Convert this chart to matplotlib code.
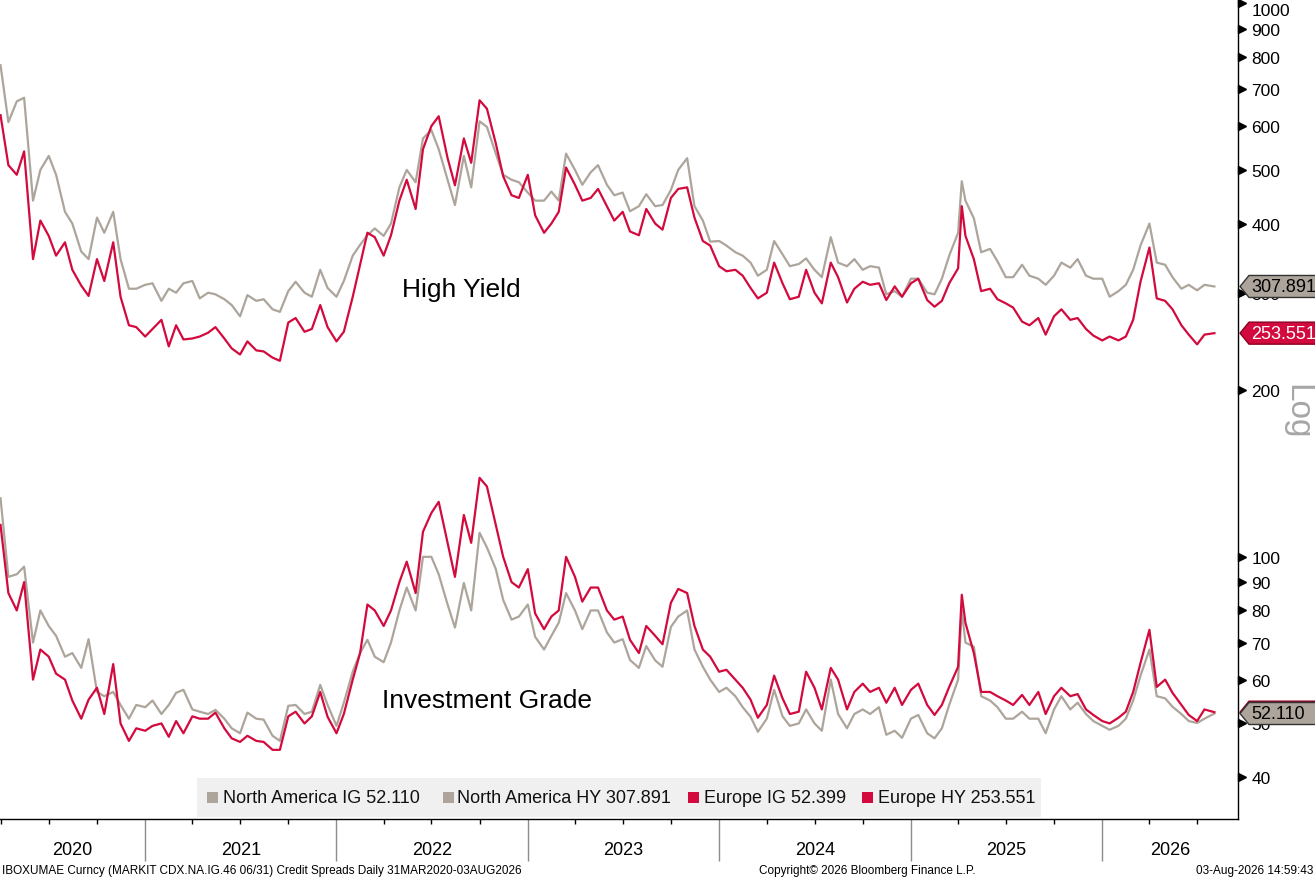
import matplotlib
matplotlib.use('Agg')
import matplotlib.pyplot as plt
import matplotlib.dates as mdates
from matplotlib.patches import Polygon, Rectangle
from matplotlib.transforms import blended_transform_factory, IdentityTransform
from matplotlib.ticker import NullLocator, FixedLocator
import pandas as pd

W, H = 1315, 879
plt.rcParams['font.family'] = ['Liberation Sans', 'DejaVu Sans']

# ---------------- data ----------------
series_names = ['North America IG', 'North America HY', 'Europe IG', 'Europe HY']
last_values = [52.110, 307.891, 52.399, 253.551]

# observation dates: semi-monthly grid plus the April 2025 spike
grid = (['2020-03-31']
        + [d.strftime('%Y-%m-%d') for d in pd.date_range('2020-04-15', '2026-07-15', freq='SMS')]
        + ['2025-04-08', '2026-08-03'])
dates = pd.to_datetime(sorted(grid))

na_hy = [
    773, 610, 665, 675, 440, 500, 530, 490, 420, 400, 356, 345, 410, 385, 420, 345, 305, 305,
    310, 312, 290, 305, 300, 312, 315, 293, 300, 298, 292, 285, 272, 297, 290, 292, 280, 277, 302, 314, 300, 295, 330, 306,
    295, 315, 350, 366, 381, 392, 380, 400, 465, 500, 475, 570, 590, 545, 480, 432, 530, 465, 612, 598, 535, 490, 480, 475,
    455, 440, 440, 457, 440, 535, 500, 470, 495, 510, 470, 450, 455, 421, 430, 452, 430, 432, 460, 500, 525, 430, 405, 371,
    372, 365, 355, 350, 340, 322, 330, 372, 352, 335, 338, 346, 330, 320, 378, 340, 335, 345, 330, 335, 333, 298, 302, 295,
    318, 318, 300, 298, 318, 350, 385, 477, 440, 409, 355, 360, 342, 320, 320, 337, 322, 318, 310, 322, 340, 333, 345, 322, 318,
    318, 295, 302, 310, 330, 365, 400, 340, 337, 320, 305, 310, 303, 310, 307.891,
]

eu_hy = [
    628, 510, 490, 540, 345, 405, 380, 350, 370, 330, 309, 296, 345, 315, 370, 295, 262, 260,
    250, 258, 268, 240, 262, 247, 248, 250, 254, 260, 248, 238, 232, 245, 236, 235, 229, 226, 265, 270, 255, 258, 285, 260,
    245, 255, 295, 337, 385, 378, 350, 381, 440, 480, 425, 545, 600, 625, 525, 469, 570, 515, 668, 645, 558, 487, 450, 445,
    490, 414, 385, 400, 420, 505, 470, 440, 445, 462, 430, 405, 420, 387, 381, 425, 400, 390, 445, 462, 465, 410, 372, 365,
    335, 328, 330, 322, 306, 293, 300, 340, 312, 292, 295, 330, 300, 287, 340, 320, 288, 305, 314, 310, 312, 291, 308, 295,
    312, 318, 291, 283, 290, 312, 332, 430, 380, 345, 302, 305, 292, 287, 282, 266, 262, 270, 252, 272, 280, 268, 270, 258, 251,
    246, 250, 246, 250, 268, 314, 362, 293, 290, 280, 262, 252, 242, 252, 253.551,
]

na_ig = [
    127.6, 92, 93, 96, 70, 80, 75, 72, 66, 67, 63, 71, 57, 56, 57, 54, 51, 54,
    53.5, 55, 52, 54, 56.8, 57.5, 53, 52.5, 52, 52.9, 51, 49, 48, 52.3, 51, 50.8, 47.5, 46.5, 53.8, 54, 52, 52.5, 58.7, 54,
    49.5, 54.5, 62, 67, 70.8, 66, 64.5, 70, 80, 88, 80, 100, 100, 93, 82, 74.5, 89.7, 80, 110.5, 104, 95, 83.6, 77, 78,
    82, 71.7, 68, 72, 76, 86, 80, 74, 80, 80, 73, 70, 71, 65.1, 63, 69, 65, 63.3, 74.7, 78, 80, 68, 63.3, 60,
    57, 58, 56, 53.5, 51.4, 48.3, 51, 57.5, 51.5, 49.5, 50, 53, 50, 48.5, 60, 52, 49, 52, 53, 52, 53.5, 47.7, 48.5, 47.1,
    51, 51.8, 48, 47, 49, 54, 60, 80.2, 70, 68.8, 56, 55, 53.5, 51, 51, 52.5, 51, 51, 48, 53, 56, 53, 54.5, 52, 50.5,
    49.5, 48.7, 49.5, 51, 55, 61, 68, 56, 55.5, 53.6, 52, 50.5, 50.1, 51, 52.110,
]

eu_ig = [
    114.2, 86, 80, 90, 60, 68, 66, 61.5, 60, 55, 51, 55.2, 58, 52, 64, 50, 46.5, 49,
    48.5, 49.5, 50, 47.3, 50.5, 48, 51.5, 51, 51, 52.3, 49, 47, 46.3, 47.5, 46.5, 46.3, 44.8, 44.8, 51.5, 52.5, 50, 51.5, 57, 51.4,
    48, 52, 60, 67, 82, 80, 75, 80, 90, 98, 86, 111, 120, 125.7, 106, 92, 119, 106, 138.9, 134, 114.2, 100, 90, 88,
    95, 79, 74, 78, 80, 100, 92, 83, 88, 88, 80, 77, 78, 70.8, 67, 75, 72, 69.5, 82.6, 87.5, 86, 75, 68, 66,
    62, 62.5, 60, 58, 55.2, 51.2, 54, 61, 55.5, 52, 52.5, 62, 58, 53, 63, 60, 53, 57, 59, 57, 58, 54.5, 58, 54,
    57.5, 59, 54, 51.8, 54, 58.2, 63.3, 85.4, 76, 67, 57, 57, 56, 55, 54, 56.3, 54, 57, 52, 56, 58, 56, 56.5, 53, 51.8,
    50.5, 50, 51.2, 52.5, 57, 64.3, 73.8, 58.2, 60, 56.8, 54, 51.8, 50.5, 53, 52.399,
]

y_ticks = [40, 50, 60, 70, 80, 90, 100, 200, 300, 400, 500, 600, 700, 800, 900, 1000]
years = list(range(2020, 2027))

GREY = '#ADA59B'
RED = '#D20A3D'
colors = [GREY, GREY, RED, RED]

# ---------------- figure ----------------
fig = plt.figure(figsize=(W / 100, H / 100), dpi=100, facecolor='white')
ax = fig.add_axes([0, 59 / H, 1238 / W, 820 / H])
ax.set_facecolor('white')

for vals, col in zip([na_ig, na_hy, eu_ig, eu_hy], colors):
    ax.plot(dates, vals, color=col, lw=1.6, solid_joinstyle='round', zorder=2)

ax.set_yscale('log')
ax.set_ylim(33.6, 1018)
x0 = pd.Timestamp('2020-03-30')
x1 = pd.Timestamp('2026-09-17')
ax.set_xlim(x0, x1)

for s in ['left', 'top']:
    ax.spines[s].set_visible(False)
for s in ['right', 'bottom']:
    ax.spines[s].set_color('black')
    ax.spines[s].set_linewidth(1)

# y axis on the right
ax.yaxis.tick_right()
ax.yaxis.set_major_locator(FixedLocator(y_ticks))
ax.yaxis.set_minor_locator(NullLocator())
ax.set_yticklabels([str(v) for v in y_ticks])
ax.tick_params(axis='y', length=0, pad=9.5, labelsize=12.5, labelcolor='black')
for lab in ax.get_yticklabels():
    if lab.get_text() == '1000':
        lab.set_va('top')
trans_y = blended_transform_factory(ax.transAxes, ax.transData)
ax.plot([1.0033] * len(y_ticks), y_ticks, ls='none', marker='>', ms=5.5,
        color='black', transform=trans_y, clip_on=False, zorder=5)

# x axis
ax.xaxis.set_major_locator(mdates.YearLocator())
ax.xaxis.set_minor_locator(mdates.MonthLocator(bymonth=[4, 7, 10]))
ax.tick_params(axis='x', which='major', length=30, width=1, color='#8C8C8C',
               labelbottom=False)
ax.tick_params(axis='x', which='minor', length=3.5, width=1, color='black',
               labelbottom=False)
trans_x = blended_transform_factory(ax.transData, ax.transAxes)
for yr in years:
    a = max(pd.Timestamp(f'{yr}-01-01'), x0)
    b = min(pd.Timestamp(f'{yr + 1}-01-01'), x1)
    mid = a + (b - a) / 2
    ax.text(mid, -(851 - 820) / 820, str(yr), transform=trans_x, ha='center',
            va='center', fontsize=13, color='black', clip_on=False)

# series labels
fig.text(461 / W, 1 - 290 / H, 'High Yield', ha='center', va='center', fontsize=19, color='black')
fig.text(487 / W, 1 - 701 / H, 'Investment Grade', ha='center', va='center', fontsize=19, color='black')

# "Log" marker
fig.text(1297 / W, 1 - 412 / H, 'Log', rotation=-90, ha='center', va='center',
         fontsize=24, color='#A6A6A6')

# legend
fig.add_artist(Rectangle((197 / W, (H - 818) / H), (1041 - 197) / W, 39 / H,
                         transform=fig.transFigure, facecolor='#F0F0F0',
                         edgecolor='none', zorder=1))
sq_x = [207, 443, 688, 862]
tx_x = [223, 457, 704, 878]
for name, val, col, sx, tx in zip(series_names, last_values, colors, sq_x, tx_x):
    fig.add_artist(Rectangle((sx / W, (H - 804) / H), 11 / W, 11 / H,
                             transform=fig.transFigure, facecolor=col,
                             edgecolor='none', zorder=2))
    fig.text(tx / W, 1 - 799 / H, f'{name} {val:.3f}', ha='left', va='center',
             fontsize=13, color='#111111', zorder=3)

# value tags on the right axis (Europe IG tag sits hidden behind North America IG)
tag_order = [(2, None), (0, 'black'), (3, 'white'), (1, 'black')]
for idx, tcol in tag_order:
    val = last_values[idx]
    col = colors[idx]
    yc = ax.transData.transform((mdates.date2num(dates[-1]), val))[1]
    hh = 11
    pts = [(1240, yc), (1249, yc + hh), (1320, yc + hh), (1320, yc - hh), (1249, yc - hh)]
    edge = '#333333' if col == GREY else '#8A0022'
    fig.add_artist(Polygon(pts, closed=True, transform=IdentityTransform(),
                           facecolor=col, edgecolor=edge, lw=1, zorder=4))
    if tcol is not None:
        fig.text(1251 / W, yc / H, f'{val:.3f}', ha='left', va='center',
                 fontsize=13, color=tcol, zorder=5)

# footer
fig.text(2 / W, 1 - 871 / H,
         'IBOXUMAE Curncy (MARKIT CDX.NA.IG.46 06/31) Credit Spreads Daily 31MAR2020-03AUG2026',
         ha='left', va='center', fontsize=8.5, color='black')
fig.text(867 / W, 1 - 871 / H, 'Copyright\u00a9 2026 Bloomberg Finance L.P.',
         ha='center', va='center', fontsize=8.5, color='black')
fig.text(1313 / W, 1 - 871 / H, '03-Aug-2026 14:59:43',
         ha='right', va='center', fontsize=8.5, color='black')

fig.savefig('out.png', dpi=100, facecolor='white')
